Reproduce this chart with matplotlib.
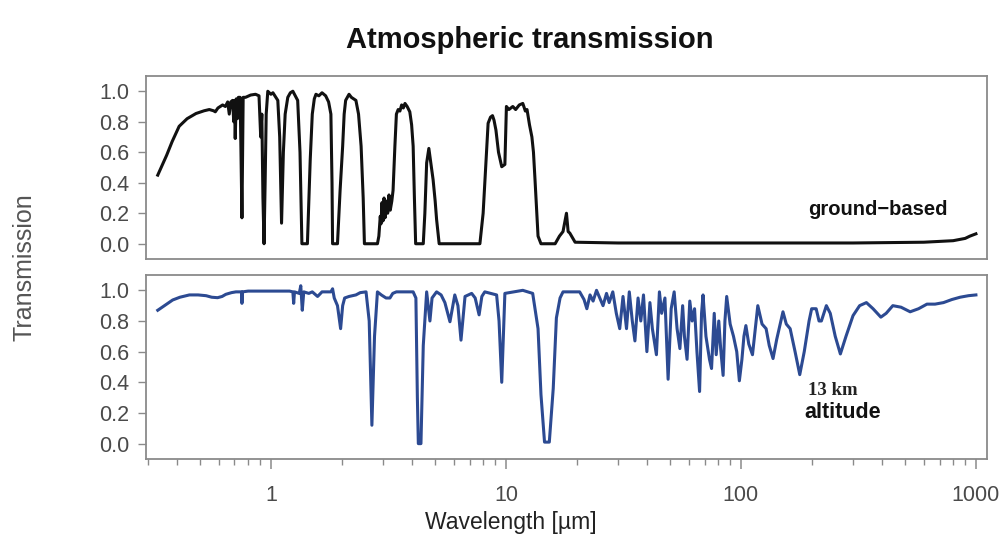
import matplotlib
matplotlib.use("Agg")
import matplotlib.pyplot as plt
from matplotlib.ticker import FixedLocator, NullFormatter, LogLocator

# ---------------- data ----------------
ground_wl = [0.33, 0.36, 0.38, 0.407, 0.44, 0.48, 0.52, 0.547, 0.57, 0.58, 0.595, 0.623,
             0.64, 0.655, 0.665, 0.675, 0.687, 0.695, 0.70, 0.705, 0.712, 0.72, 0.727, 0.74,
             0.753, 0.762, 0.78, 0.82, 0.86, 0.89, 0.905, 0.915, 0.925, 0.935, 0.945, 0.955,
             0.97, 1.00, 1.02, 1.05, 1.07, 1.09, 1.11, 1.13, 1.15, 1.18, 1.21, 1.24, 1.27,
             1.30, 1.33, 1.355, 1.43, 1.47, 1.50, 1.53, 1.555, 1.60, 1.65, 1.71, 1.76, 1.80,
             1.82, 1.83, 1.92, 1.97, 2.02, 2.05, 2.08, 2.15, 2.20, 2.30, 2.36, 2.42, 2.47,
             2.50, 2.84, 2.88, 2.92, 2.94, 2.97, 3.00, 3.03, 3.06, 3.10, 3.14, 3.18, 3.22,
             3.27, 3.31, 3.37, 3.42, 3.48, 3.54, 3.60, 3.66, 3.72, 3.80, 3.90, 3.97, 4.03,
             4.08, 4.13, 4.45, 4.52, 4.60, 4.70, 4.80, 4.90, 5.00, 5.07, 5.20, 7.75, 8.00,
             8.15, 8.40, 8.60, 8.77, 8.90, 9.07, 9.30, 9.60, 9.90, 10.05, 10.3, 10.7, 11.0,
             11.4, 11.8, 12.1, 12.3, 12.6, 12.9, 13.1, 13.3, 13.7, 14.1, 16.2, 16.9, 17.5,
             18.1, 18.4, 18.7, 19.7, 30, 100, 300, 600, 800, 900, 943, 1000]
ground_tr = [0.45, 0.58, 0.67, 0.77, 0.82, 0.854, 0.872, 0.88, 0.872, 0.865, 0.89, 0.91,
             0.90, 0.93, 0.85, 0.93, 0.94, 0.80, 0.94, 0.69, 0.95, 0.82, 0.96, 0.96,
             0.17, 0.96, 0.96, 0.975, 0.98, 0.97, 0.70, 0.85, 0.30, 0.00, 0.40, 0.85,
             1.00, 0.98, 0.99, 0.96, 0.94, 0.70, 0.135, 0.60, 0.85, 0.96, 0.99, 1.00, 0.97,
             0.94, 0.60, 0.00, 0.00, 0.55, 0.85, 0.95, 0.98, 0.97, 0.99, 0.97, 0.93, 0.85,
             0.40, 0.00, 0.00, 0.35, 0.64, 0.85, 0.94, 0.98, 0.96, 0.94, 0.85, 0.64, 0.30,
             0.00, 0.00, 0.05, 0.18, 0.13, 0.27, 0.15, 0.30, 0.17, 0.28, 0.20, 0.32, 0.22,
             0.28, 0.35, 0.64, 0.85, 0.88, 0.87, 0.91, 0.89, 0.92, 0.90, 0.865, 0.78, 0.64,
             0.30, 0.00, 0.00, 0.20, 0.53, 0.625, 0.52, 0.42, 0.28, 0.16, 0.00, 0.00, 0.20,
             0.42, 0.79, 0.83, 0.84, 0.81, 0.745, 0.60, 0.505, 0.52, 0.90, 0.88, 0.90, 0.88,
             0.91, 0.92, 0.87, 0.88, 0.78, 0.70, 0.60, 0.42, 0.05, 0.00, 0.00, 0.05, 0.08,
             0.20, 0.08, 0.07, 0.01, 0.005, 0.005, 0.005, 0.01, 0.02, 0.035, 0.05, 0.065]

alt_wl = [0.33, 0.36, 0.382, 0.41, 0.45, 0.49, 0.53, 0.56, 0.593, 0.62, 0.643, 0.68, 0.71,
          0.75, 0.753, 0.757, 0.80, 1.00, 1.20, 1.24, 1.25, 1.26, 1.32, 1.34, 1.36, 1.38,
          1.45, 1.50, 1.58, 1.65, 1.80, 1.83, 1.86, 1.92, 1.98, 2.02, 2.06, 2.15, 2.30,
          2.40, 2.54, 2.62, 2.69, 2.76, 2.84, 2.95, 3.09, 3.21, 3.30, 3.42, 4.03, 4.14,
          4.20, 4.24, 4.35, 4.45, 4.60, 4.67, 4.75, 4.85, 5.07, 5.30, 5.50, 5.78, 6.06,
          6.25, 6.44, 6.70, 7.15, 7.40, 7.69, 7.90, 8.13, 9.13, 9.35, 9.60, 9.80, 9.90,
          11.8, 13.0, 13.7, 14.1, 14.6, 15.3, 15.9, 16.4, 17.0, 17.5, 20.6, 21.5, 22.1,
          22.8, 23.5, 24.3, 25.1, 25.9, 26.8, 27.5, 28.5, 29.5, 30.5, 31.5, 32.6, 33.5,
          34.5, 35.4, 36.5, 37.5, 38.5, 39.8, 41, 42, 43.7, 45, 46, 47.5, 49, 50.5, 52,
          53.5, 55, 56.5, 57.5, 59, 60.6, 62, 63.5, 65, 66.7, 68, 69, 71, 73.5, 75, 77,
          78.5, 80.5, 82, 84, 85.5, 87, 90, 93, 96, 98.5, 101, 103, 105, 108, 112, 118,
          123, 128, 132, 137, 142, 147, 151, 156, 162, 170, 178, 186, 195, 200, 209, 215,
          220, 231, 240, 252, 265, 280, 300, 320, 342, 365, 394, 415, 443, 480, 525, 570,
          619, 670, 728, 790, 856, 930, 1000]
alt_tr = [0.87, 0.91, 0.937, 0.955, 0.97, 0.97, 0.965, 0.955, 0.952, 0.96, 0.974, 0.985, 0.99,
          0.99, 0.915, 0.99, 0.995, 0.995, 0.995, 0.99, 0.915, 0.99, 0.98, 1.03, 0.87, 0.99,
          0.98, 0.99, 0.96, 0.99, 0.99, 1.01, 0.95, 0.90, 0.75, 0.90, 0.95, 0.96, 0.97,
          0.985, 0.99, 0.80, 0.12, 0.70, 0.99, 0.97, 0.95, 0.95, 0.98, 0.99, 0.99, 0.95,
          0.30, 0.00, 0.00, 0.64, 0.99, 0.90, 0.80, 0.95, 0.99, 0.97, 0.92, 0.795, 0.97,
          0.90, 0.675, 0.96, 0.98, 0.95, 0.84, 0.96, 0.99, 0.97, 0.80, 0.40, 0.80, 0.98,
          1.00, 0.98, 0.75, 0.32, 0.01, 0.01, 0.36, 0.82, 0.95, 0.99, 0.99, 0.94, 0.88,
          0.97, 0.93, 1.00, 0.95, 0.90, 0.98, 0.92, 0.99, 0.85, 0.75, 0.96, 0.75, 0.99,
          0.80, 0.67, 0.95, 0.80, 0.97, 0.60, 0.92, 0.75, 0.58, 0.99, 0.85, 0.95, 0.42, 0.88, 0.99,
          0.75, 0.62, 0.90, 0.70, 0.55, 0.93, 0.80, 0.88, 0.60, 0.34, 0.85, 0.97, 0.70, 0.55, 0.49, 0.85,
          0.58, 0.80, 0.62, 0.445, 0.80, 0.96, 0.78, 0.70, 0.60, 0.41, 0.55, 0.70, 0.77, 0.65, 0.58, 0.90,
          0.78, 0.75, 0.64, 0.555, 0.68, 0.78, 0.86, 0.78, 0.75, 0.60, 0.45, 0.60, 0.80, 0.88, 0.88, 0.80,
          0.80, 0.90, 0.85, 0.70, 0.585, 0.70, 0.835, 0.90, 0.92, 0.88, 0.825, 0.85, 0.90, 0.89, 0.86, 0.88,
          0.91, 0.91, 0.92, 0.94, 0.955, 0.965, 0.97]

yticks = [0.0, 0.2, 0.4, 0.6, 0.8, 1.0]
ytick_labels = ["0.0", "0.2", "0.4", "0.6", "0.8", "1.0"]
xticks = [1, 10, 100, 1000]
xtick_labels = ["1", "10", "100", "1000"]

title = "Atmospheric transmission"
xlabel = "Wavelength [µm]"
ylabel = "Transmission"
label_top = "ground\u2212based"
label_bot_1 = "13 km"
label_bot_2 = "altitude"

# ---------------- figure ----------------
plt.rcParams['font.family'] = ['Liberation Sans', 'DejaVu Sans']
fig = plt.figure(figsize=(10.08, 5.37), dpi=100)
fig.patch.set_facecolor('white')

left, width = 0.1448, 0.8343
ax1 = fig.add_axes([left, 0.5177, width, 0.3408])
ax2 = fig.add_axes([left, 0.1453, width, 0.3426], sharex=ax1)

spine_col = '#8a8a8a'
tick_col = '#4a4a4a'

ax1.plot(ground_wl, ground_tr, color='#111111', lw=2.2, solid_joinstyle='round')
ax2.plot(alt_wl, alt_tr, color='#2c4a92', lw=2.2, solid_joinstyle='round')

for ax in (ax1, ax2):
    ax.set_xscale('log')
    ax.set_xlim(0.294, 1114)
    ax.set_ylim(-0.1, 1.1)
    ax.set_yticks(yticks)
    ax.set_yticklabels(ytick_labels)
    for s in ax.spines.values():
        s.set_color(spine_col)
        s.set_linewidth(1.3)
    ax.tick_params(axis='y', direction='out', length=6, width=1, color=spine_col,
                   labelsize=15.5, labelcolor=tick_col, pad=6)

ax1.tick_params(axis='x', which='both', bottom=False, labelbottom=False)
ax2.xaxis.set_major_locator(FixedLocator(xticks))
ax2.set_xticklabels(xtick_labels)
ax2.xaxis.set_minor_locator(LogLocator(base=10, subs=range(2, 10)))
ax2.xaxis.set_minor_formatter(NullFormatter())
ax2.tick_params(axis='x', which='major', direction='out', length=7, width=1.1,
                color=spine_col, labelsize=15.5, labelcolor=tick_col, pad=12)
ax2.tick_params(axis='x', which='minor', direction='out', length=4, width=1,
                color=spine_col)

fig.text(0.526, 0.925, title, ha='center', va='center', fontsize=21,
         fontweight='bold', color='#111111')
fig.text(0.507, 0.027, xlabel, ha='center', va='center', fontsize=16.5, color='#222222')
fig.text(0.024, 0.502, ylabel, ha='center', va='center', rotation=90, fontsize=18,
         color='#555555')

ax1.text(0.870, 0.268, label_top, transform=ax1.transAxes, ha='center', va='center',
         fontsize=14.5, fontweight='bold', color='#111111')
ax2.text(0.817, 0.370, label_bot_1, transform=ax2.transAxes, ha='center', va='center',
         fontsize=13.5, fontweight='bold', color='#222222', family='Liberation Serif')
ax2.text(0.828, 0.25, label_bot_2, transform=ax2.transAxes, ha='center', va='center',
         fontsize=15.5, fontweight='bold', color='#111111')

fig.savefig('out.png', dpi=100, facecolor='white')
